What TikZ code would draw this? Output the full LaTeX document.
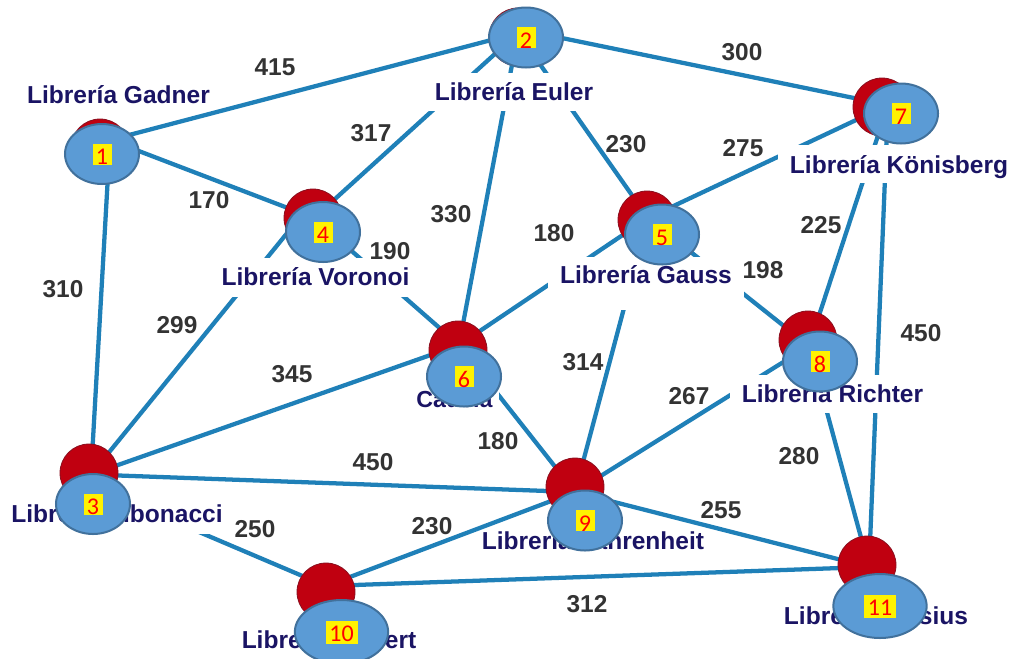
\documentclass[tikz,border=0pt]{standalone}
\usepackage{fontspec}
\setmainfont{Liberation Sans}
\newfontfamily\numfont{Carlito}
\usetikzlibrary{shapes.geometric}
\definecolor{edgeblue}{HTML}{1F80B8}
\definecolor{pinred}{HTML}{C00010}
\definecolor{pinedge}{HTML}{8A1020}
\definecolor{ovalblue}{HTML}{5B9BD5}
\definecolor{ovaledge}{HTML}{41719C}
\definecolor{navytext}{HTML}{1A1464}
\definecolor{weighttext}{HTML}{333333}
\tikzset{
  link/.style={draw=edgeblue,line width=3.2pt},
  place/.style={anchor=base,fill=white,inner ysep=0pt,inner xsep=9pt,text=navytext,font=\fontsize{18.4}{20}\selectfont\bfseries},
  weight/.style={text=weighttext,font=\fontsize{18.3}{20}\selectfont\bfseries,inner sep=0pt},
  pin/.style={circle,draw=pinedge,fill=pinred,line width=.6pt,minimum size=43.5pt,inner sep=0pt},
  oval/.style={ellipse,draw=ovaledge,fill=ovalblue,line width=1.5pt,minimum width=55.5pt,minimum height=45pt,inner sep=0pt},
  bigoval/.style={oval,minimum width=70pt,minimum height=48pt},
  tag/.style={rectangle,fill=yellow,text=red,inner sep=0pt,minimum width=14.25pt,text height=15.75pt,text depth=0pt,font=\numfont\fontsize{18}{18}\selectfont},
  bigtag/.style={tag,minimum width=24pt,text height=15.5pt,text depth=1.75pt}
}
\begin{document}
\begin{tikzpicture}[x=.75pt,y=-.75pt]
\fill[white] (0,0) rectangle (1013,658);
\useasboundingbox (0,0) rectangle (1013,658);
% hubs
\coordinate (h1) at (110,140);
\coordinate (h2) at (518,33);
\coordinate (h2b) at (518,29);
\coordinate (h3) at (91,474.5);
\coordinate (h3b) at (91,486);
\coordinate (h4) at (314,218);
\coordinate (h4b) at (314,200);
\coordinate (h5) at (648,218);
\coordinate (h6) at (459,345);
\coordinate (h7) at (888,105);
\coordinate (h8) at (809,346);
\coordinate (h9) at (575,492);
\coordinate (h10) at (326,586);
\coordinate (h11) at (869,567);
% connectors
\draw[link] (h1)--(h2);
\draw[link] (h1)--(h4);
\draw[link] (h1)--(h3);
\draw[link] (h2b)--(h7);
\draw[link] (h2)--(h4);
\draw[link] (h2)--(h6);
\draw[link] (h2)--(h5);
\draw[link] (h3)--(h4b);
\draw[link] (h3)--(h6);
\draw[link] (h3)--(h9);
\draw[link] (h3b)--(h10);
\draw[link] (h4)--(h6);
\draw[link] (h5)--(h6);
\draw[link] (h5)--(h7);
\draw[link] (h5)--(h8);
\draw[link] (h5)--(h9);
\draw[link] (h6)--(h9);
\draw[link] (h7)--(h8);
\draw[link] (h7)--(h11);
\draw[link] (h8)--(h9);
\draw[link] (h8)--(h11);
\draw[link] (h9)--(h10);
\draw[link] (h9)--(h11);
\draw[link] (h10)--(h11);
% place names
\node[place,text height=15pt,text depth=3pt] (n1) at (118.5,103) {Librería Gadner};
\node[place,text height=20.25pt,text depth=8.25pt] (n2) at (514,100) {Librería Euler};
\node[place,text height=20.25pt,text depth=9pt] (n4) at (315.5,285) {Librería Voronoi};
\node[place,text height=21pt,text depth=7.5pt] (n7) at (899,173) {Librería Könisberg};
\node[place,text height=19.5pt,text depth=20.25pt] (n5) at (646,283) {Librería Gauss};
\node[place,text height=20.25pt,text depth=8.25pt] (n8) at (832.5,402) {Librería Richter};
\node[place,text height=15pt,text depth=3pt,inner xsep=5pt,font=\fontsize{17.4}{20}\selectfont\bfseries] (n6) at (454.5,407) {Caucia};
\node[place,text height=24pt,text depth=9pt] (n3) at (117,522) {Librería Fibonacci};
\node[place,text height=13.5pt,text depth=4pt,inner xsep=1pt] (n9) at (593,549) {Librería Fahrenheit};
\node[place,text height=15pt,text depth=3pt] (n10) at (329,648) {Librería Hilbert};
\node[place,text height=15pt,text depth=3pt] (n11) at (876,624) {Librería Celsius};
% weights
\node[weight] (w1) at (275,67) {415};
\node[weight] (w2) at (742,52) {300};
\node[weight] (w3) at (209,200) {170};
\node[weight] (w4) at (371,133) {317};
\node[weight] (w5) at (451,214) {330};
\node[weight] (w6) at (626,144) {230};
\node[weight] (w7) at (743,148) {275};
\node[weight] (w8) at (554,233) {180};
\node[weight] (w9) at (390,251) {190};
\node[weight] (w10) at (763,270) {198};
\node[weight] (w11) at (821,225) {225};
\node[weight] (w12) at (63,289) {310};
\node[weight] (w13) at (177,325) {299};
\node[weight] (w14) at (921,333) {450};
\node[weight] (w15) at (292,374) {345};
\node[weight] (w16) at (583,362) {314};
\node[weight] (w17) at (689,396) {267};
\node[weight] (w18) at (498,441) {180};
\node[weight] (w19) at (373,462) {450};
\node[weight] (w20) at (799,456) {280};
\node[weight] (w21) at (255,529) {250};
\node[weight] (w22) at (432,526) {230};
\node[weight] (w23) at (721,510) {255};
\node[weight] (w24) at (587,604) {312};
% red pins
\node[pin] (r1) at (100,148) {};
\node[pin] (r2) at (518,37) {};
\node[pin] (r3) at (89,473) {};
\node[pin] (r4) at (313,218) {};
\node[pin] (r5) at (647,220) {};
\node[pin] (r6) at (458,350) {};
\node[pin] (r7) at (882,107) {};
\node[pin] (r8) at (808,340) {};
\node[pin] (r9) at (575,487) {};
\node[pin] (r10) at (326,592) {};
\node[pin] (r11) at (867,565) {};
% blue ovals
\node[oval] (b1) at (102,154) {};
\node[oval] (b2) at (526,37.5) {};
\node[oval] (b3) at (93,504) {};
\node[oval] (b4) at (323,232) {};
\node[oval] (b5) at (662,234.5) {};
\node[oval] (b6) at (464,376.5) {};
\node[oval] (b7) at (901,113.5) {};
\node[oval] (b8) at (820,361.5) {};
\node[oval] (b9) at (585,520.5) {};
\node[bigoval] (b10) at (341.5,632) {};
\node[bigoval] (b11) at (880,606) {};
% number tags
\node[tag] (t1) at (b1) {1};
\node[tag] (t2) at (b2) {2};
\node[tag] (t3) at (b3) {3};
\node[tag] (t4) at (b4) {4};
\node[tag] (t5) at (b5) {5};
\node[tag] (t6) at (b6) {6};
\node[tag] (t7) at (b7) {7};
\node[tag] (t8) at (b8) {8};
\node[tag] (t9) at (b9) {9};
\node[bigtag] (t10) at (b10) {10};
\node[bigtag] (t11) at (b11) {11};
\end{tikzpicture}
\end{document}
